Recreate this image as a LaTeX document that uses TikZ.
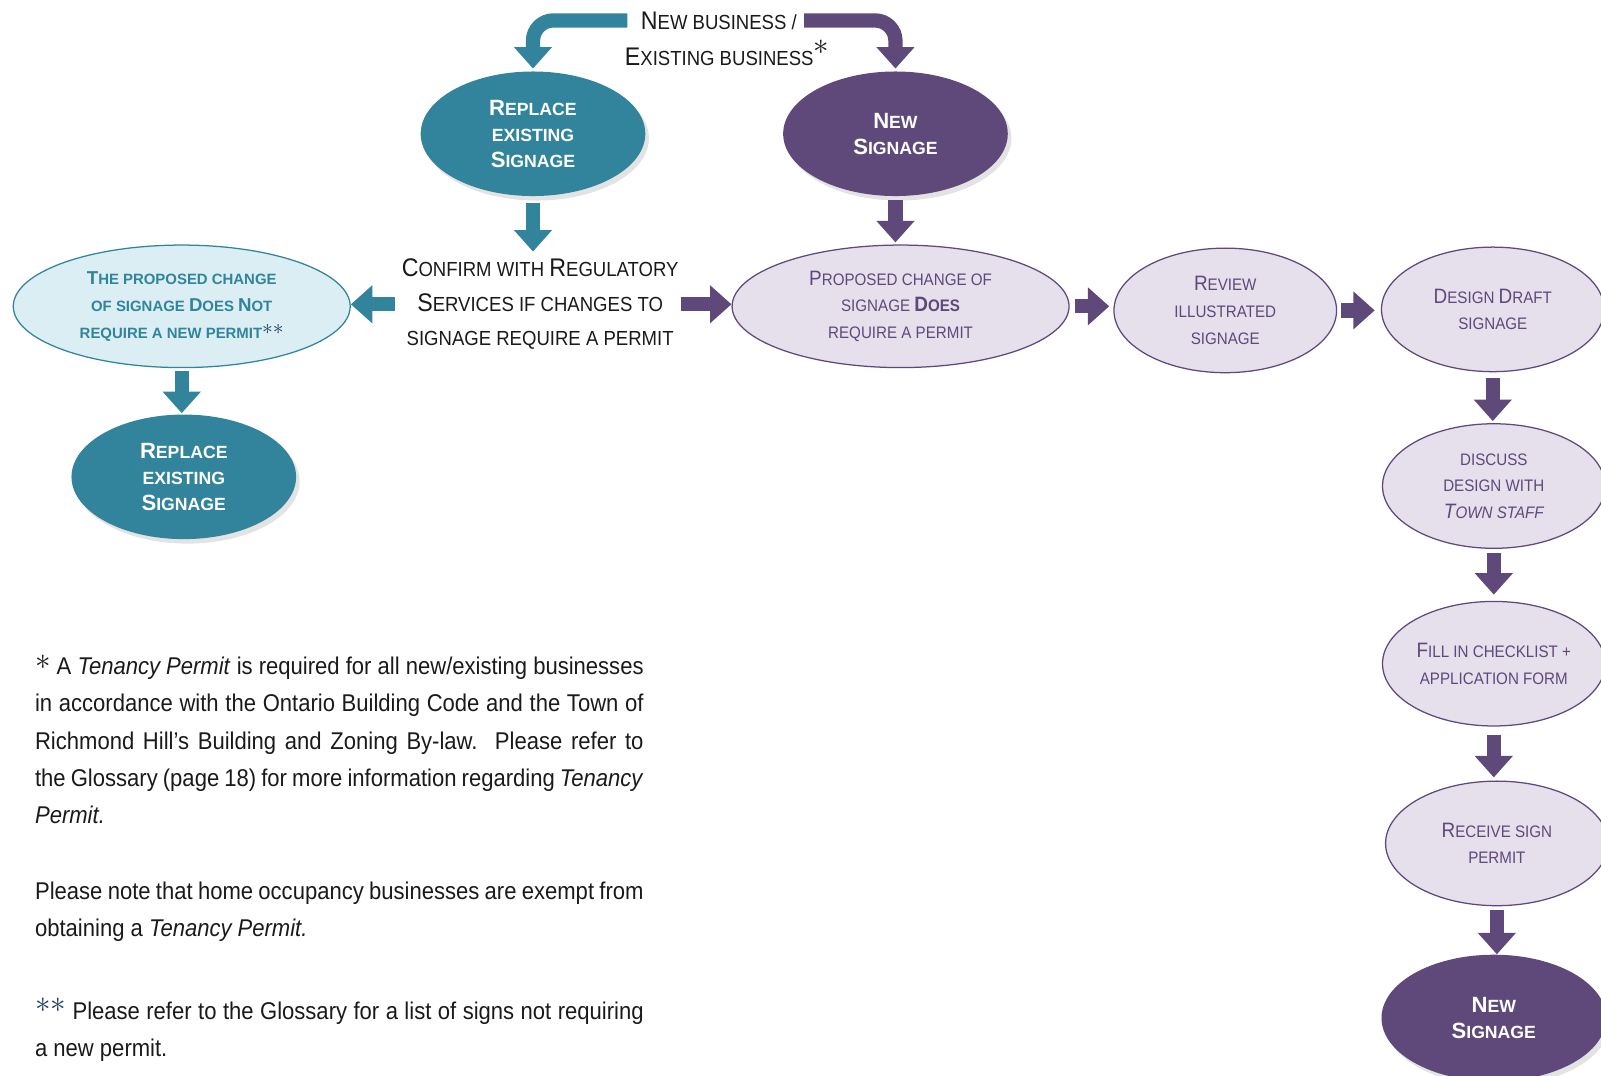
\documentclass[tikz,border=0pt]{standalone}
\usepackage{fontspec}
\setmainfont{Liberation Sans}
\newfontfamily\narrowfont[FakeStretch=0.91]{Liberation Sans}
\usetikzlibrary{arrows.meta,shapes.geometric,shadows}
\setlength\parindent{0pt}

\definecolor{cTeal}{HTML}{31849B}
\definecolor{cPurple}{HTML}{5F497A}
\definecolor{cTealLight}{HTML}{DAEEF3}
\definecolor{cPurpleLight}{HTML}{E5E0EC}
\definecolor{cStar}{HTML}{1F3F66}
\definecolor{cInk}{HTML}{1A1A1A}

\newcommand\lc[1]{\scalebox{0.8}{#1}}

\tikzset{
  lbl/.style={text=cInk, align=center, inner sep=1pt, font=\narrowfont\fontsize{14.2}{19.3}\selectfont},
  tealnode/.style={ellipse, fill=cTeal, text=white, align=center, inner sep=0pt,
    minimum width=4.4cm, minimum height=2.44cm, font=\bfseries\fontsize{12.3}{14.5}\selectfont,
    drop shadow={shadow xshift=2pt, shadow yshift=-2.5pt, opacity=0.22}},
  purplenode/.style={tealnode, fill=cPurple},
  purplesoft/.style={ellipse, draw=cPurple, line width=0.7pt, fill=cPurpleLight, text=cPurple,
    align=center, inner sep=0pt, minimum width=4.36cm, minimum height=2.44cm,
    font=\narrowfont\fontsize{11.6}{14.8}\selectfont},
  tealsoft/.style={purplesoft, draw=cTeal, fill=cTealLight, text=cTeal,
    font=\bfseries\fontsize{10.4}{15}\selectfont},
  tealarrow/.style={draw=cTeal, line width=0.28cm, -{Triangle[width=0.72cm,length=0.42cm]}},
  purplearrow/.style={tealarrow, draw=cPurple},
  notes/.style={text=cInk, text width=11.92cm, align=justify, inner sep=0pt,
    font=\narrowfont\fontsize{13.5}{20.8}\selectfont}
}

\begin{document}
\begin{tikzpicture}
\useasboundingbox (0,0) rectangle (31.36,-21.06);

\node[lbl] (newbiz) at (14.08,-0.4) {N\lc{EW BUSINESS /}};
\node[lbl] (exbiz) at (14.24,-1.04) {E\lc{XISTING BUSINESS}\raisebox{0.8ex}{\LARGE$\ast$}};

\node[tealnode] (rep1) at (10.44,-2.62) {R\lc{EPLACE}\\\lc{EXISTING}\\S\lc{IGNAGE}};
\node[purplenode] (newsig1) at (17.54,-2.62) {N\lc{EW}\\S\lc{IGNAGE}};

\node[lbl] (confirm) at (10.58,-5.96) {C\lc{ONFIRM WITH }R\lc{EGULATORY}\\S\lc{ERVICES IF CHANGES TO}\\\lc{SIGNAGE REQUIRE A PERMIT}};

\node[tealsoft, minimum width=6.6cm, minimum height=2.4cm] (notreq) at (3.56,-6.0)
  {T\lc{HE PROPOSED CHANGE}\\\lc{OF SIGNAGE }D\lc{OES }N\lc{OT}\\\lc{REQUIRE A NEW PERMIT}{\color{cStar}\raisebox{0.35ex}{\large${\ast}{\ast}$}}};
\node[tealnode] (rep2) at (3.6,-9.34) {R\lc{EPLACE}\\\lc{EXISTING}\\S\lc{IGNAGE}};

\node[purplesoft, minimum width=6.6cm, minimum height=2.4cm] (doesreq) at (17.64,-6.0)
  {P\lc{ROPOSED CHANGE OF}\\\lc{SIGNAGE }\textbf{D\lc{OES}}\\\lc{REQUIRE A PERMIT}};
\node[purplesoft] (review) at (24.0,-6.08) {R\lc{EVIEW}\\\lc{ILLUSTRATED}\\\lc{SIGNAGE}};
\node[purplesoft] (draft) at (29.24,-6.06) {D\lc{ESIGN }D\lc{RAFT}\\\lc{SIGNAGE}};
\node[purplesoft] (discuss) at (29.26,-9.52) {\lc{DISCUSS}\\\lc{DESIGN WITH}\\\textit{T\lc{OWN STAFF}}};
\node[purplesoft] (fill) at (29.26,-13.0) {F\lc{ILL IN CHECKLIST +}\\\lc{APPLICATION FORM}};
\node[purplesoft] (receive) at (29.32,-16.52) {R\lc{ECEIVE SIGN}\\\lc{PERMIT}};
\node[purplenode, minimum height=2.48cm] (newsig2) at (29.26,-19.94) {N\lc{EW}\\S\lc{IGNAGE}};

\draw[tealarrow, rounded corners=0.4cm, shorten <=0.22cm, shorten >=0.05cm] (newbiz.west) -| (rep1.north);
\draw[purplearrow, rounded corners=0.4cm, shorten <=0.1cm, shorten >=0.05cm] (newbiz.east) -| (newsig1.north);
\draw[tealarrow, shorten <=0.12cm, shorten >=0.1cm] (rep1.south) -- (rep1.south |- confirm.north);
\draw[purplearrow, shorten <=0.08cm, shorten >=0.04cm] (newsig1.south) -- (newsig1.south |- doesreq.north);
\draw[tealarrow, shorten <=0.1cm] (confirm.west) -- (confirm.west -| notreq.east);
\draw[purplearrow] (confirm.east) -- (confirm.east -| doesreq.west);
\draw[tealarrow, shorten <=0.06cm, shorten >=0.02cm] (notreq.south) -- (notreq.south |- rep2.north);
\draw[purplearrow, shorten <=0.1cm, shorten >=0.08cm] (doesreq.east) -- (doesreq.east -| review.west);
\draw[purplearrow, shorten <=0.08cm, shorten >=0.12cm] (review.east) -- (review.east -| draft.west);
\draw[purplearrow, shorten <=0.12cm, shorten >=0.04cm] (draft.south) -- (draft.south |- discuss.north);
\draw[purplearrow, shorten <=0.08cm, shorten >=0.12cm] (discuss.south) -- (discuss.south |- fill.north);
\draw[purplearrow, shorten <=0.16cm, shorten >=0.06cm] (fill.south) -- (fill.south |- receive.north);
\draw[purplearrow, shorten <=0.08cm] (receive.south) -- (receive.south |- newsig2.north);

\node[notes, anchor=north west] (fn) at (0.68,-12.82)
  {\raisebox{0.4ex}{\LARGE$\ast$}\ A \textit{Tenancy Permit} is required for all new/existing businesses\linebreak
   in accordance with the Ontario Building Code and the Town of\linebreak
   Richmond Hill’s Building and Zoning By-law.\ \ Please refer to\linebreak
   the Glossary (page 18) for more information regarding \textit{Tenancy}\linebreak
   \textit{Permit.}\\[21.5pt]
   Please note that home occupancy businesses are exempt from\linebreak
   obtaining a \textit{Tenancy Permit.}\\[25pt]
   {\color{cStar}\raisebox{0.5ex}{\LARGE${\ast}{\ast}$}}\ Please refer to the Glossary for a list of signs not requiring\linebreak
   a new permit.};
\end{tikzpicture}
\end{document}
